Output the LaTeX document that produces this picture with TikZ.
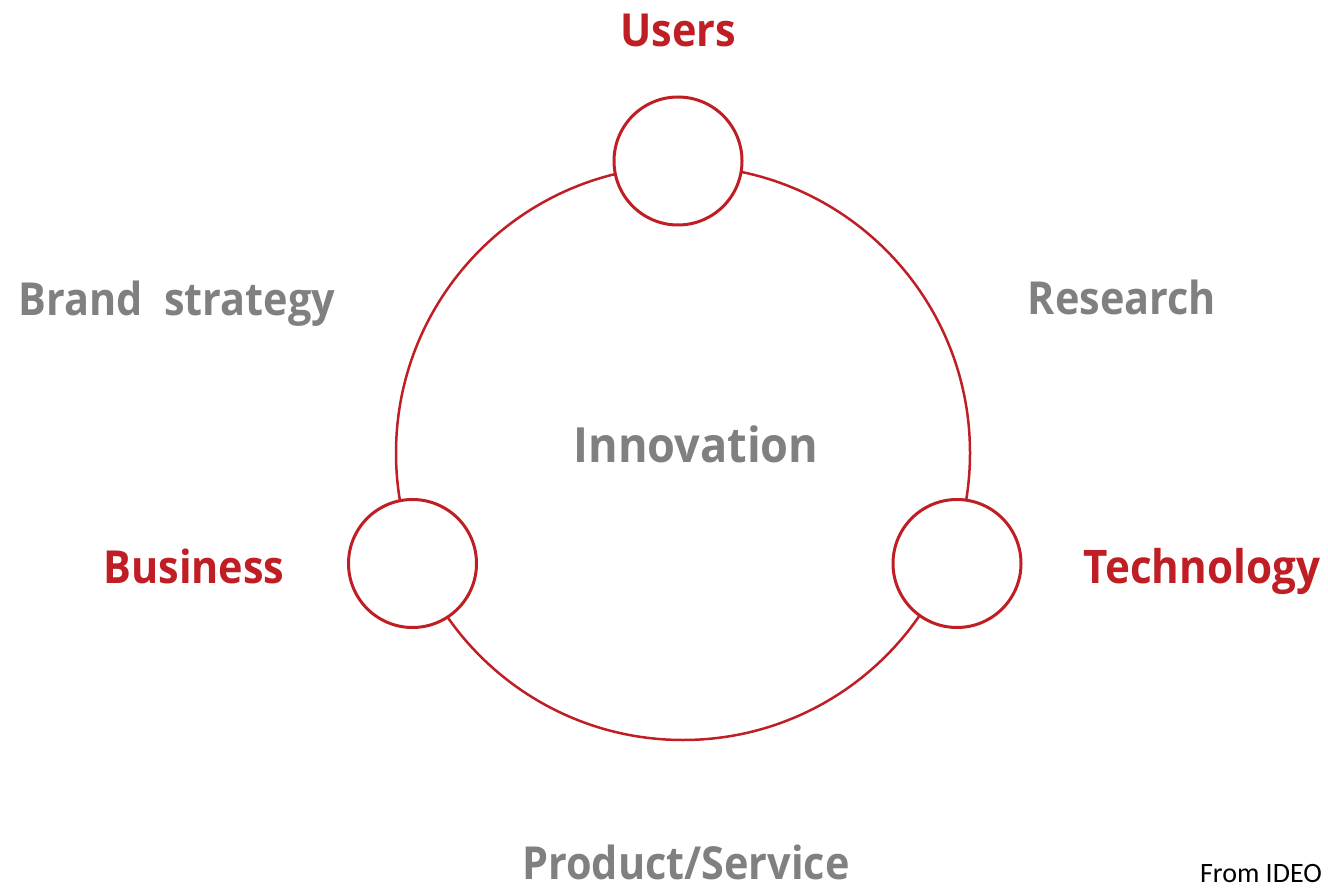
\documentclass[tikz,border=0pt]{standalone}
\usepackage{fontspec}
\setmainfont[FakeStretch=0.91]{Open Sans}
\newfontfamily\innofont[FakeStretch=0.93]{Open Sans}
\newfontfamily\notefont{Carlito}
\definecolor{ideored}{RGB}{190,30,36}
\definecolor{ideogray}{RGB}{128,128,128}
\begin{document}
\begin{tikzpicture}[x=1pt,y=-1pt,
  lbl/.style={font=\fontsize{45.5}{50}\selectfont\bfseries, inner sep=0pt, anchor=base},
  redlbl/.style={lbl, text=ideored},
  graylbl/.style={lbl, text=ideogray},
  hub/.style={circle, draw=ideored, line width=3pt, fill=white, minimum size=128pt, inner sep=0pt},
  ring/.style={draw=ideored, line width=2.5pt}]
\useasboundingbox (0,0) rectangle (1328,890);
\node[circle, inner sep=0pt, minimum size=574pt] (big) at (683,453) {};
\draw[ring] (big.center) circle[radius=287];
\node[hub] (users) at (678,161) {};
\node[hub] (business) at (412.5,563.5) {};
\node[hub] (tech) at (957,563.5) {};
\node[redlbl] (tUsers) at (678,47) {Users};
\node[redlbl] (tBusiness) at (194,583) {Business};
\node[redlbl, font=\fontsize{46.3}{50}\selectfont\bfseries] (tTech) at (1202,583) {Technology};
\node[graylbl] (tBrand) at (177,316) {Brand\ \ strategy};
\node[graylbl] (tResearch) at (1122,315) {Research};
\node[graylbl, font=\innofont\fontsize{48.5}{52}\selectfont\bfseries] (tInno) at (696,462) {Innovation};
\node[graylbl] (tProd) at (686,879) {Product/Service};
\node[font=\notefont\fontsize{28}{30}\selectfont, inner sep=0pt, anchor=base east] (tFrom) at (1322,882) {From IDEO};
\end{tikzpicture}
\end{document}
